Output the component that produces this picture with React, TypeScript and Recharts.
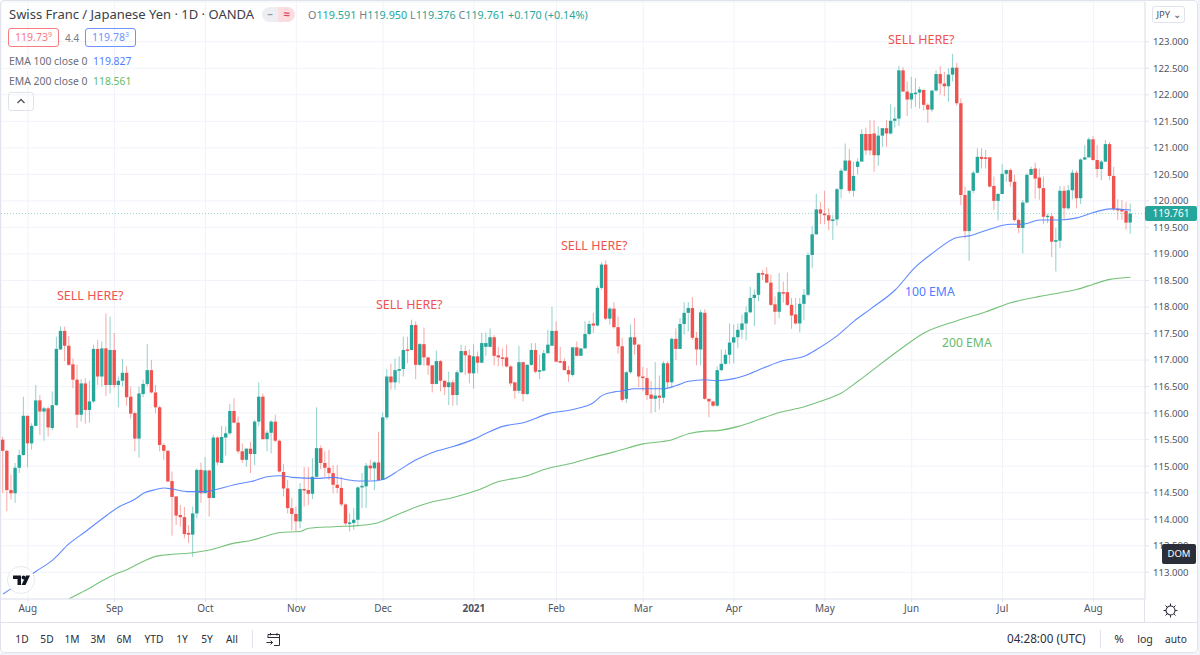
import { Bar, CartesianGrid, ComposedChart, Line, ReferenceLine, XAxis, YAxis } from 'recharts'

const UP = '#26a69a'
const DOWN = '#ef5350'
const BLUE = '#4f7dff'
const GREEN = '#66bb6a'
const FONT = '"Noto Sans", sans-serif'

const opens = [
  115.50,115.29,114.55,114.49,114.97,115.21,115.95,115.43,115.76,116.24,
  116.03,116.09,115.72,116.15,117.20,117.55,117.27,116.92,116.63,115.97,
  116.56,116.06,116.22,117.21,116.69,117.22,116.53,117.19,116.53,116.61,
  116.76,116.31,116.00,115.52,116.36,116.55,116.81,116.39,116.11,115.40,
  115.29,114.72,114.43,114.08,114.04,113.74,113.71,114.11,114.93,114.49,
  114.92,114.40,115.54,115.06,115.54,115.62,116.04,115.82,115.28,115.12,
  115.33,115.23,115.84,116.31,115.51,115.63,115.84,115.48,114.89,114.58,
  114.21,114.10,113.96,114.57,114.55,114.48,114.80,115.34,115.06,114.97,
  114.87,114.65,114.59,114.28,113.92,113.93,113.99,114.60,114.62,115.01,
  114.96,115.07,114.74,115.92,116.69,116.58,116.80,116.83,117.20,117.19,
  117.66,116.91,117.30,117.05,116.90,116.55,116.98,116.61,116.49,116.58,
  116.34,116.77,117.17,117.09,116.75,117.07,116.95,117.25,117.25,117.43,
  117.09,117.05,117.05,116.88,116.58,116.42,116.96,116.36,116.91,117.19,
  116.78,116.80,117.13,117.27,117.55,116.98,116.98,116.81,116.72,117.24,
  117.08,117.22,117.49,117.69,117.65,118.36,118.80,117.78,117.97,117.62,
  117.26,116.27,116.77,117.43,117.29,116.69,116.66,116.35,116.27,116.33,
  116.29,116.94,116.58,117.40,117.21,117.68,117.89,117.98,117.42,117.20,
  117.89,116.27,116.22,116.14,116.81,116.93,117.10,117.33,117.43,117.57,
  117.69,117.90,118.17,118.23,118.64,118.62,118.46,118.05,117.91,118.28,
  118.28,118.04,117.86,117.69,118.06,118.23,118.98,119.37,119.84,119.76,
  119.73,119.63,119.65,120.22,120.57,120.76,120.19,120.64,120.74,121.26,
  121.26,121.27,120.86,121.23,121.37,121.27,121.51,121.55,122.46,122.06,
  121.91,122.01,122.04,122.09,121.81,121.72,122.08,122.39,122.21,122.16,
  122.38,122.51,121.84,120.11,119.43,120.19,120.53,120.83,120.82,120.82,
  120.28,120.00,120.13,120.51,120.58,120.36,119.64,119.49,119.97,120.49,
  120.61,120.44,120.24,119.70,119.71,119.23,119.25,120.19,119.86,120.20,
  120.53,120.05,120.78,120.82,121.16,120.77,120.60,120.74,121.07,120.47,
  119.85,119.83,119.81,119.591,
]

const closes = [
  115.29,114.55,114.49,114.97,115.21,115.95,115.43,115.76,116.24,116.03,
  116.09,115.73,116.15,117.21,117.55,117.27,116.91,116.63,115.97,116.56,
  116.06,116.22,117.21,116.69,117.22,116.53,117.19,116.53,116.61,116.76,
  116.30,115.99,115.52,116.37,116.55,116.81,116.39,116.11,115.40,115.29,
  114.71,114.42,114.07,114.04,113.72,113.71,114.11,114.93,114.49,114.92,
  114.40,115.54,115.07,115.55,115.62,116.04,115.82,115.28,115.12,115.33,
  115.23,115.84,116.31,115.51,115.63,115.84,115.48,114.90,114.58,114.21,
  114.10,113.96,114.57,114.55,114.48,114.80,115.34,115.06,114.97,114.87,
  114.65,114.59,114.28,113.92,113.94,113.99,114.60,114.63,115.01,114.96,
  115.07,114.74,115.92,116.69,116.58,116.81,116.83,117.19,117.19,117.66,
  116.91,117.30,117.05,116.90,116.55,116.98,116.61,116.49,116.58,116.34,
  116.77,117.17,117.09,116.75,117.07,116.95,117.32,117.32,117.43,117.08,
  117.05,117.03,116.88,116.56,116.42,116.96,116.36,116.91,117.19,116.78,
  116.81,117.13,117.29,117.55,116.97,116.97,116.81,116.73,117.24,117.08,
  117.22,117.49,117.68,117.65,118.36,118.80,117.78,117.97,117.62,117.26,
  116.25,116.77,117.43,117.29,116.69,116.66,116.34,116.27,116.33,116.29,
  116.94,116.58,117.40,117.21,117.68,117.89,117.98,117.42,117.20,117.90,
  116.27,116.22,116.14,116.81,116.93,117.10,117.33,117.43,117.57,117.69,
  117.90,118.17,118.23,118.64,118.61,118.46,118.04,117.91,118.28,118.27,
  118.04,117.84,117.69,118.06,118.23,118.98,119.37,119.84,119.76,119.73,
  119.63,119.65,120.22,120.57,120.76,120.19,120.47,120.74,121.26,120.95,
  120.95,120.86,121.23,121.37,121.27,121.51,121.55,122.46,122.06,121.91,
  122.03,122.04,122.10,121.81,121.72,122.08,122.39,122.21,122.16,122.38,
  122.51,121.84,120.11,119.43,120.19,120.53,120.83,120.79,120.80,120.27,
  120.00,120.13,120.51,120.58,120.36,119.64,119.49,119.97,120.49,120.60,
  120.42,120.24,119.70,119.72,119.23,119.26,120.19,119.86,120.20,120.53,
  120.05,120.78,120.82,121.16,120.77,120.60,120.74,121.07,120.47,119.85,
  119.83,119.81,119.59,119.761,
]

const highs = [
  115.56,115.31,114.84,115.06,115.31,116.31,115.95,115.81,116.53,116.34,
  116.12,116.12,116.41,117.44,117.63,117.63,117.45,117.03,116.91,116.64,
  116.66,116.61,117.29,117.38,117.35,117.88,117.82,117.51,116.69,117.02,
  116.88,116.50,116.03,116.50,116.63,117.30,117.00,116.53,116.14,115.43,
  115.31,114.90,114.43,114.27,114.23,113.89,114.24,114.96,115.07,115.17,
  114.93,115.59,115.56,115.76,115.75,116.17,116.28,115.94,115.43,115.34,
  115.46,115.87,116.58,116.37,115.68,115.87,115.97,115.50,115.04,114.74,
  114.40,114.24,114.68,114.98,114.98,115.15,116.11,115.39,115.28,115.31,
  115.02,115.02,114.80,114.30,114.11,114.21,114.62,114.87,115.06,115.12,
  115.10,115.65,116.01,116.83,116.93,117.03,117.07,117.44,117.44,117.76,
  117.73,117.32,117.61,117.05,116.91,117.18,117.00,116.61,116.78,116.63,
  116.81,117.29,117.27,117.20,117.30,117.16,117.51,117.52,117.60,117.47,
  117.25,117.22,117.29,116.90,116.59,117.27,116.97,116.92,117.32,117.32,
  117.10,117.19,117.57,118.00,117.73,117.25,117.03,116.89,117.24,117.35,
  117.22,117.73,117.74,117.89,118.40,118.84,118.88,118.00,118.09,117.82,
  117.42,116.79,117.67,117.79,117.31,116.87,116.85,116.60,116.96,116.71,
  116.98,116.98,117.43,117.60,117.79,118.09,118.09,118.19,117.53,117.95,
  117.96,116.27,116.22,116.88,117.20,117.20,117.69,117.67,117.69,117.86,
  118.01,118.38,118.33,118.65,118.70,118.75,118.61,118.20,118.64,118.48,
  118.65,118.17,118.17,118.17,118.34,119.03,119.53,120.13,119.98,120.19,
  119.86,119.73,120.24,120.61,121.08,120.98,120.74,120.80,121.35,121.38,
  121.52,121.52,121.40,121.37,121.52,121.82,121.77,122.54,122.52,122.25,
  122.34,122.31,122.15,122.10,121.84,122.08,122.46,122.54,122.43,122.50,
  122.77,122.60,121.93,120.27,120.20,120.57,120.99,120.99,120.96,120.83,
  120.46,120.15,120.69,120.59,120.61,120.49,119.67,120.02,120.52,120.64,
  120.72,120.61,120.46,119.76,119.76,119.49,120.28,120.28,120.30,120.59,
  120.57,120.80,121.05,121.20,121.22,121.05,120.77,121.15,121.11,120.64,
  120.03,120.02,119.98,119.95,
]

const lows = [
  114.49,114.15,114.37,114.31,114.87,115.20,114.98,115.31,115.75,115.59,
  115.48,115.56,115.68,116.14,117.19,116.98,116.89,116.47,115.72,115.84,
  115.80,115.82,116.19,116.53,116.50,116.32,116.37,116.47,116.11,116.50,
  116.14,115.90,115.28,115.16,116.30,116.50,116.37,116.00,115.28,115.12,
  114.71,113.69,113.89,113.86,113.64,113.55,113.29,114.02,114.31,114.49,
  114.05,114.40,115.02,115.06,115.20,115.59,115.81,115.24,115.06,114.99,
  114.87,115.02,115.75,115.50,115.28,115.24,115.45,114.88,114.43,114.11,
  113.79,113.77,113.83,114.24,114.27,114.38,114.79,114.94,114.80,114.74,
  114.49,114.49,114.24,113.89,113.77,113.80,113.89,114.21,114.21,114.74,
  114.55,114.74,114.74,115.88,116.44,116.44,116.56,116.69,116.94,117.18,
  116.64,116.89,116.89,116.72,116.39,116.54,116.41,116.34,116.15,116.14,
  116.15,116.75,116.72,116.56,116.46,116.75,116.94,117.08,117.24,116.90,
  116.88,116.88,116.86,116.51,116.27,116.37,116.22,116.34,116.89,116.75,
  116.64,116.78,117.12,117.27,116.96,116.94,116.81,116.59,116.69,117.07,
  117.08,117.22,117.47,117.51,117.64,118.33,117.75,117.67,117.59,117.12,
  116.21,116.19,116.74,117.10,116.49,116.41,116.25,116.00,116.02,116.07,
  116.19,116.47,116.49,117.00,117.21,117.48,117.54,117.38,116.90,116.90,
  116.25,115.92,116.12,116.12,116.79,116.91,116.93,116.94,117.23,117.40,
  117.37,117.88,117.64,118.11,118.51,118.45,118.02,117.67,117.79,118.08,
  118.02,117.59,117.67,117.52,117.75,118.20,118.73,119.36,119.56,119.56,
  119.45,119.26,119.53,120.05,120.56,120.14,120.08,120.50,120.74,120.86,
  120.86,120.55,120.66,121.02,121.02,121.25,121.38,121.41,122.06,121.60,
  121.74,121.77,121.74,121.70,121.47,121.68,122.06,122.00,121.97,121.87,
  122.25,121.79,119.92,119.29,118.87,120.14,120.52,120.61,120.61,120.25,
  119.83,119.63,120.13,120.36,120.27,119.61,119.39,119.01,119.95,120.49,
  120.04,120.02,119.56,119.58,118.94,118.67,119.11,119.65,119.83,120.03,
  119.86,119.94,120.77,120.82,120.76,120.44,120.39,120.73,120.39,119.81,
  119.64,119.64,119.46,119.376,
]

const ema100Idx = [0,4,8,12,16,20,24,28,32,34,37,39,41,45,49,52,56,60,64,67,70,76,80,83,86,89,92,96,100,104,109,114,117,121,126,132,138,143,145,148,150,153,160,163,166,170,173,177,180,185,189,194,197,202,206,210,216,221,225,231,234,239,244,247,251,256,260,264,268,273]
const ema100Val = [112.59,112.80,113.02,113.23,113.54,113.77,114.01,114.23,114.38,114.49,114.56,114.59,114.57,114.52,114.52,114.57,114.65,114.71,114.80,114.82,114.79,114.77,114.79,114.75,114.72,114.72,114.75,114.93,115.12,115.26,115.37,115.51,115.62,115.75,115.82,115.99,116.07,116.20,116.33,116.40,116.42,116.46,116.46,116.52,116.60,116.63,116.61,116.65,116.72,116.88,116.99,117.07,117.20,117.46,117.73,117.96,118.32,118.76,119.01,119.31,119.34,119.47,119.56,119.56,119.64,119.64,119.68,119.78,119.85,119.827]

const ema200Idx = [16,20,24,27,30,33,37,41,45,50,56,60,64,67,72,74,80,86,91,95,100,104,109,115,120,126,132,138,142,148,155,162,166,170,173,178,183,187,194,199,203,207,217,223,231,238,244,251,256,260,264,268,273]
const ema200Val = [112.50,112.66,112.84,112.96,113.05,113.17,113.30,113.34,113.36,113.42,113.55,113.60,113.69,113.75,113.77,113.83,113.86,113.88,113.94,114.07,114.23,114.33,114.41,114.55,114.71,114.80,114.96,115.06,115.15,115.27,115.42,115.50,115.61,115.66,115.67,115.75,115.88,115.99,116.12,116.25,116.38,116.60,117.19,117.51,117.74,117.91,118.08,118.20,118.27,118.33,118.43,118.52,118.561]

const priceTicks = [113,113.5,114,114.5,115,115.5,116,116.5,117,117.5,118,118.5,119,119.5,120,120.5,121,121.5,122,122.5,123]
const monthIdx = [6,27,49,71,92,114,134,155,177,199,220,242,264]
const monthLabels = ['Aug','Sep','Oct','Nov','Dec','2021','Feb','Mar','Apr','May','Jun','Jul','Aug']
const rangeButtons = ['1D','5D','1M','3M','6M','YTD','1Y','5Y','All']
const rangeX = [22,47,72,98,124,154,182,207,232]

const SPARE_SLOTS = 3
const rows = Array.from({ length: opens.length + SPARE_SLOTS }, (_, i) => ({
  i,
  open: opens[i] ?? null,
  close: closes[i] ?? null,
  high: highs[i] ?? null,
  low: lows[i] ?? null,
  ema100: ema100Idx.includes(i) ? ema100Val[ema100Idx.indexOf(i)] : null,
  ema200: ema200Idx.includes(i) ? ema200Val[ema200Idx.indexOf(i)] : null,
}))

function Candle(props: any) {
  const { x, y, width, height, payload } = props
  if (payload.open == null) return null
  const color = payload.close >= payload.open ? UP : DOWN
  const perUnit = height / (payload.high - payload.low || 1)
  const top = y + (payload.high - Math.max(payload.open, payload.close)) * perUnit
  const bodyH = Math.abs(payload.open - payload.close) * perUnit
  const cx = x + width / 2
  return (
    <g>
      <line x1={cx} x2={cx} y1={y} y2={y + height} stroke={color} strokeOpacity={0.5} />
      <rect x={x} y={top} width={width} height={Math.max(bodyH, 1.5)} fill={color} />
    </g>
  )
}

function MonthTick(props: any) {
  const { x, y, payload } = props
  const pos = monthIdx.indexOf(payload.value)
  const label = monthLabels[pos]
  return (
    <text x={x} y={y + 8} textAnchor="middle" fontSize={10} fontFamily={FONT} fill="#50535e"
      fontWeight={label === '2021' ? 700 : 400}>
      {label}
    </text>
  )
}

function Txt({ x, y, color = '#50535e', size = 12, weight = 400, center = false, children }: any) {
  return (
    <div style={{
      position: 'absolute', left: x, top: y, transform: center ? 'translate(-50%, -50%)' : 'translateY(-50%)',
      color, fontSize: size, fontWeight: weight, whiteSpace: 'nowrap', lineHeight: 1,
    }}>
      {children}
    </div>
  )
}

function Box({ x, y, w, h, color, children }: any) {
  return (
    <div style={{
      position: 'absolute', left: x, top: y, width: w, height: h, boxSizing: 'border-box',
      border: `1px solid ${color}`, borderRadius: 3, color, fontSize: 10.5, lineHeight: `${h - 2}px`, textAlign: 'center',
    }}>
      {children}
    </div>
  )
}

export default function App() {
  return (
    <div style={{ position: 'absolute', left: 0, top: 0, width: 1200, height: 655, background: '#fff', fontFamily: FONT, overflow: 'hidden' }}>
      <ComposedChart width={1200} height={622} data={rows} margin={{ top: 2, right: 0, bottom: 0, left: 1 }}>
        <CartesianGrid stroke="#f0f3fa" />
        <XAxis dataKey="i" type="category" ticks={monthIdx} interval={0} height={23} tick={<MonthTick />}
          tickSize={3} stroke="#e0e3eb" />
        <YAxis orientation="right" width={55} domain={[112.497, 123.748]} allowDataOverflow ticks={priceTicks}
          tickFormatter={(v: number) => v.toFixed(3)} tickSize={4} tickMargin={4} stroke="#e0e3eb"
          tick={{ fill: '#50535e', fontSize: 9.6, fontFamily: FONT }} />
        <ReferenceLine y={119.761} stroke={UP} strokeOpacity={0.45} strokeDasharray="1 2" />
        <Bar dataKey={(d: any) => (d.open == null ? null : [d.low, d.high])} barSize={3.4} shape={<Candle />} isAnimationActive={false} />
        <Line dataKey="ema100" type="monotone" stroke={BLUE} strokeOpacity={0.9} strokeWidth={1.1} dot={false} connectNulls isAnimationActive={false} />
        <Line dataKey="ema200" type="monotone" stroke={GREEN} strokeOpacity={0.9} strokeWidth={1.1} dot={false} connectNulls isAnimationActive={false} />
      </ComposedChart>

      {/* outer frame and bottom bar */}
      <div style={{ position: 'absolute', left: 0, top: 0, width: 1198, height: 653, boxSizing: 'border-box', border: '1px solid #e0e3eb', borderRadius: 4, pointerEvents: 'none' }} />
      <div style={{ position: 'absolute', left: 1, top: 622, width: 1196, height: 1, background: '#e0e3eb' }} />
      <div style={{ position: 'absolute', left: 1198, top: 0, width: 2, height: 655, background: '#f0f3fa' }} />
      <div style={{ position: 'absolute', left: 0, top: 653, width: 1200, height: 2, background: '#f0f3fa' }} />

      {/* legend */}
      <Txt x={9} y={14} color="#3b3e48" size={13}>Swiss Franc / Japanese Yen · 1D · OANDA</Txt>
      <div style={{ position: 'absolute', left: 262, top: 7, width: 33, height: 15, borderRadius: 8, overflow: 'hidden', display: 'flex' }}>
        <div style={{ width: 16, background: '#eceef2', color: '#9598a1', fontSize: 11, lineHeight: '14px', textAlign: 'center', fontWeight: 700 }}>–</div>
        <div style={{ width: 17, background: '#fbdde0', color: '#d9435a', fontSize: 11, lineHeight: '14px', textAlign: 'center', fontWeight: 700 }}>≈</div>
      </div>
      <Txt x={308} y={15} size={10.8} color={UP}>
        <span style={{ color: '#787b86' }}>O</span>119.591{' '}
        <span style={{ color: '#787b86' }}>H</span>119.950{' '}
        <span style={{ color: '#787b86' }}>L</span>119.376{' '}
        <span style={{ color: '#787b86' }}>C</span>119.761 +0.170 (+0.14%)
      </Txt>
      <Box x={8} y={28} w={51} h={19} color="#f77c80">119.73<sup style={{ fontSize: 7, lineHeight: 0 }}>9</sup></Box>
      <Txt x={65} y={38} size={10} color="#787b86">4.4</Txt>
      <Box x={85} y={28} w={51} h={19} color="#6e93ff">119.78<sup style={{ fontSize: 7, lineHeight: 0 }}>3</sup></Box>
      <Txt x={9} y={60.5} size={10.4} color="#6a6d78">EMA 100 close 0</Txt>
      <Txt x={93} y={60.5} size={10.4} color={BLUE}>119.827</Txt>
      <Txt x={9} y={81} size={10.4} color="#6a6d78">EMA 200 close 0</Txt>
      <Txt x={93} y={81} size={10.4} color={GREEN}>118.561</Txt>
      <div style={{ position: 'absolute', left: 8, top: 92, width: 26, height: 19, boxSizing: 'border-box', border: '1px solid #e0e3eb', borderRadius: 3 }}>
        <svg width={24} height={17}><path d="M8.5 10 L12 6.5 L15.5 10" fill="none" stroke="#50535e" strokeWidth={1.3} /></svg>
      </div>

      {/* drawn notes */}
      <Txt x={57} y={296} size={12.5} color={DOWN}>SELL HERE?</Txt>
      <Txt x={376} y={305} size={12.5} color={DOWN}>SELL HERE?</Txt>
      <Txt x={561} y={246} size={12.5} color={DOWN}>SELL HERE?</Txt>
      <Txt x={888} y={40} size={12.5} color={DOWN}>SELL HERE?</Txt>
      <Txt x={905} y={292} size={12.2} color={BLUE}>100 EMA</Txt>
      <Txt x={942} y={343} size={12.2} color={GREEN}>200 EMA</Txt>

      {/* price scale extras */}
      <div style={{ position: 'absolute', left: 1152, top: 6, width: 33, height: 17, boxSizing: 'border-box', border: '1px solid #e0e3eb', borderRadius: 3, color: '#50535e', fontSize: 9.5, lineHeight: '15px', textAlign: 'center' }}>JPY ⌄</div>
      <div style={{ position: 'absolute', left: 1145, top: 206, width: 52, height: 15, background: UP, color: '#fff', fontSize: 10, lineHeight: '15px', textAlign: 'center', borderRadius: 2 }}>119.761</div>
      <div style={{ position: 'absolute', left: 1162, top: 544, width: 34, height: 20, background: '#2a2e39', color: '#fff', fontSize: 9.5, lineHeight: '20px', textAlign: 'center', borderRadius: 2 }}>DOM</div>
      <div style={{ position: 'absolute', left: 7, top: 566, width: 28, height: 28, boxSizing: 'border-box', background: '#fff', border: '1px solid #e8eaf0', borderRadius: '50%' }}>
        <svg width={26} height={26}>
          <path d="M5 8.5 H13 V18 H9.5 V12 H5 Z" fill="#131722" />
          <circle cx={15.5} cy={10.5} r={1.9} fill="#131722" />
          <path d="M18 8.5 H22 L17.5 18 H13.5 Z" fill="#131722" />
        </svg>
      </div>
      <svg style={{ position: 'absolute', left: 1163, top: 603 }} width={15} height={15}>
        <circle cx={7.5} cy={7.5} r={4.5} fill="none" stroke="#2a2e39" strokeWidth={1.1} />
        <path d="M7.5 0.5 V3 M7.5 12 V14.5 M0.5 7.5 H3 M12 7.5 H14.5 M2.5 2.5 L4.3 4.3 M10.7 10.7 L12.5 12.5 M12.5 2.5 L10.7 4.3 M4.3 10.7 L2.5 12.5" stroke="#2a2e39" strokeWidth={1} />
      </svg>
      <div style={{ position: 'absolute', left: 1144, top: 599, width: 1, height: 23, background: '#e0e3eb' }} />

      {/* bottom toolbar */}
      {rangeButtons.map((b, k) => (
        <Txt key={b} x={rangeX[k]} y={639} size={10.2} color="#2a2e39" center>{b}</Txt>
      ))}
      <div style={{ position: 'absolute', left: 252, top: 630, width: 1, height: 18, background: '#e0e3eb' }} />
      <svg style={{ position: 'absolute', left: 266, top: 632 }} width={15} height={15}>
        <path d="M2 6 V2.5 H13.5 V13.5 H8 M2 5.5 H13.5 M4.5 1 V3.5 M11 1 V3.5 M0.5 10.5 H6.5 M4.5 8.5 L6.5 10.5 L4.5 12.5" fill="none" stroke="#2a2e39" strokeWidth={1} />
      </svg>
      <Txt x={1007} y={639} size={11.7} color="#2a2e39">04:28:00 (UTC)</Txt>
      <div style={{ position: 'absolute', left: 1100, top: 630, width: 1, height: 18, background: '#e0e3eb' }} />
      <Txt x={1119} y={639} size={11.5} color="#2a2e39" center>%</Txt>
      <Txt x={1145} y={639} size={10.6} color="#2a2e39" center>log</Txt>
      <Txt x={1176} y={639} size={10.2} color="#2a2e39" center>auto</Txt>
    </div>
  )
}
